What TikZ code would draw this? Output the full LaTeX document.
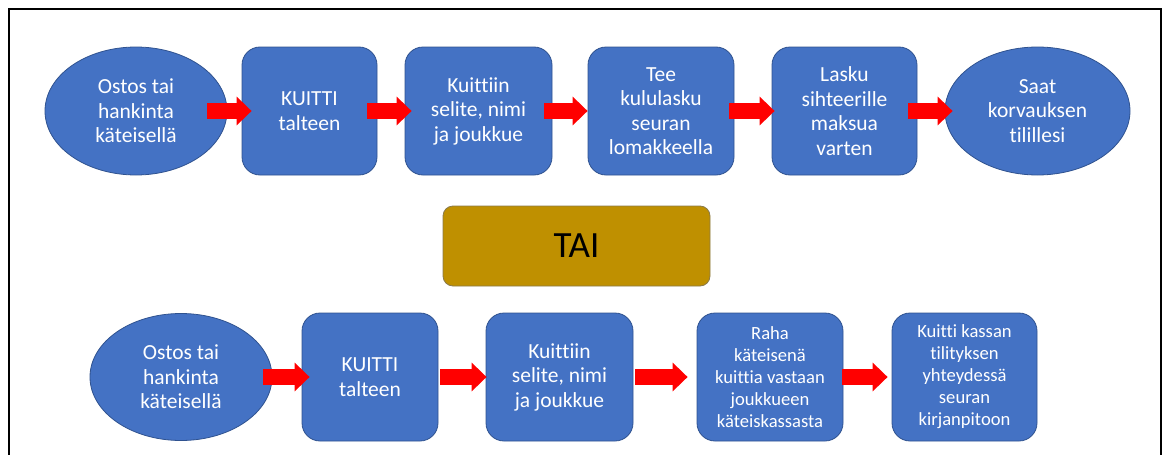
\documentclass[tikz,border=0pt]{standalone}
\usepackage{fontspec}
\setmainfont{Carlito}[Ligatures=NoCommon]
\usetikzlibrary{arrows.meta,shapes.geometric}
\definecolor{obl}{HTML}{4472C4}
\definecolor{obd}{HTML}{2F528F}
\definecolor{gold}{HTML}{BF9000}
\definecolor{goldd}{HTML}{8A7A4A}
\begin{document}
\begin{tikzpicture}[x=1pt,y=-1pt,
  base/.style={fill=obl,draw=obd,line width=0.8pt,text=white,align=center,inner sep=1pt,font=\fontsize{21.5}{24.5}\selectfont},
  oval/.style={base,ellipse,minimum height=128pt},
  stepbox/.style={base,rounded corners=18pt,minimum height=128pt},
  small/.style={font=\fontsize{18.6}{22}\selectfont},
  flow/.style={draw=red,line width=16pt,-{Triangle[length=15pt,width=28pt]}},
  frame/.style={draw=black,line width=2pt}
]
\useasboundingbox (0,0) rectangle (1165,455);
\draw[frame] (9,455) -- (9,9) -- (1161,9) -- (1161,455);

% top row
\node[oval,minimum width=182pt] (e1) at (136,111) {Ostos tai\\hankinta\\käteisellä};
\node[stepbox,minimum width=135pt] (b1) at (309.5,111) {KUITTI\\talteen};
\node[stepbox,minimum width=147pt] (b2) at (478.5,111) {Kuittiin\\selite, nimi\\ja joukkue};
\node[stepbox,minimum width=146pt] (b3) at (661,111) {Tee\\kululasku\\seuran\\lomakkeella};
\node[stepbox,minimum width=145pt] (b4) at (844.5,111) {Lasku\\sihteerille\\maksua\\varten};
\node[oval,minimum width=185pt] (e2) at (1037.5,111) {Saat\\korvauksen\\tilillesi};

% middle
\node[fill=gold,draw=goldd,line width=0.8pt,rounded corners=10pt,minimum width=267pt,minimum height=80pt,font=\fontsize{37}{44}\selectfont,text=black] (tai) at (576.5,246) {TAI};

% bottom row
\node[oval,minimum width=182pt,minimum height=127pt] (f1) at (181,377) {Ostos tai\\hankinta\\käteisellä};
\node[stepbox,minimum width=136pt] (c1) at (370,377) {KUITTI\\talteen};
\node[stepbox,minimum width=147pt] (c2) at (559.5,377) {Kuittiin\\selite, nimi\\ja joukkue};
\node[stepbox,small,minimum width=146pt] (c3) at (770,377) {Raha\\käteisenä\\kuittia vastaan\\joukkueen\\käteiskassasta};
\node[stepbox,small,minimum width=145pt] (c4) at (964.5,377) {Kuitti kassan\\tilityksen\\yhteydessä\\seuran\\kirjanpitoon};

% arrows top
\draw[flow] ([xshift=-20pt]e1.east) -- ([xshift=10pt]b1.west);
\draw[flow] ([xshift=-10pt]b1.east) -- ([xshift=7pt]b2.west);
\draw[flow] ([xshift=-8pt]b2.east) -- ([xshift=0pt]b3.west);
\draw[flow] ([xshift=-5pt]b3.east) -- ([xshift=3pt]b4.west);
\draw[flow] ([xshift=-9pt]b4.east) -- ([xshift=8pt]e2.west);

% arrows bottom
\draw[flow] ([xshift=-9pt]f1.east) -- ([xshift=8pt]c1.west);
\draw[flow] ([xshift=2pt]c1.east) -- ([xshift=1pt]c2.west);
\draw[flow] ([xshift=2pt]c2.east) -- ([xshift=-9pt]c3.west);
\draw[flow] ([xshift=-1pt]c3.east) -- ([xshift=-4pt]c4.west);
\end{tikzpicture}
\end{document}
